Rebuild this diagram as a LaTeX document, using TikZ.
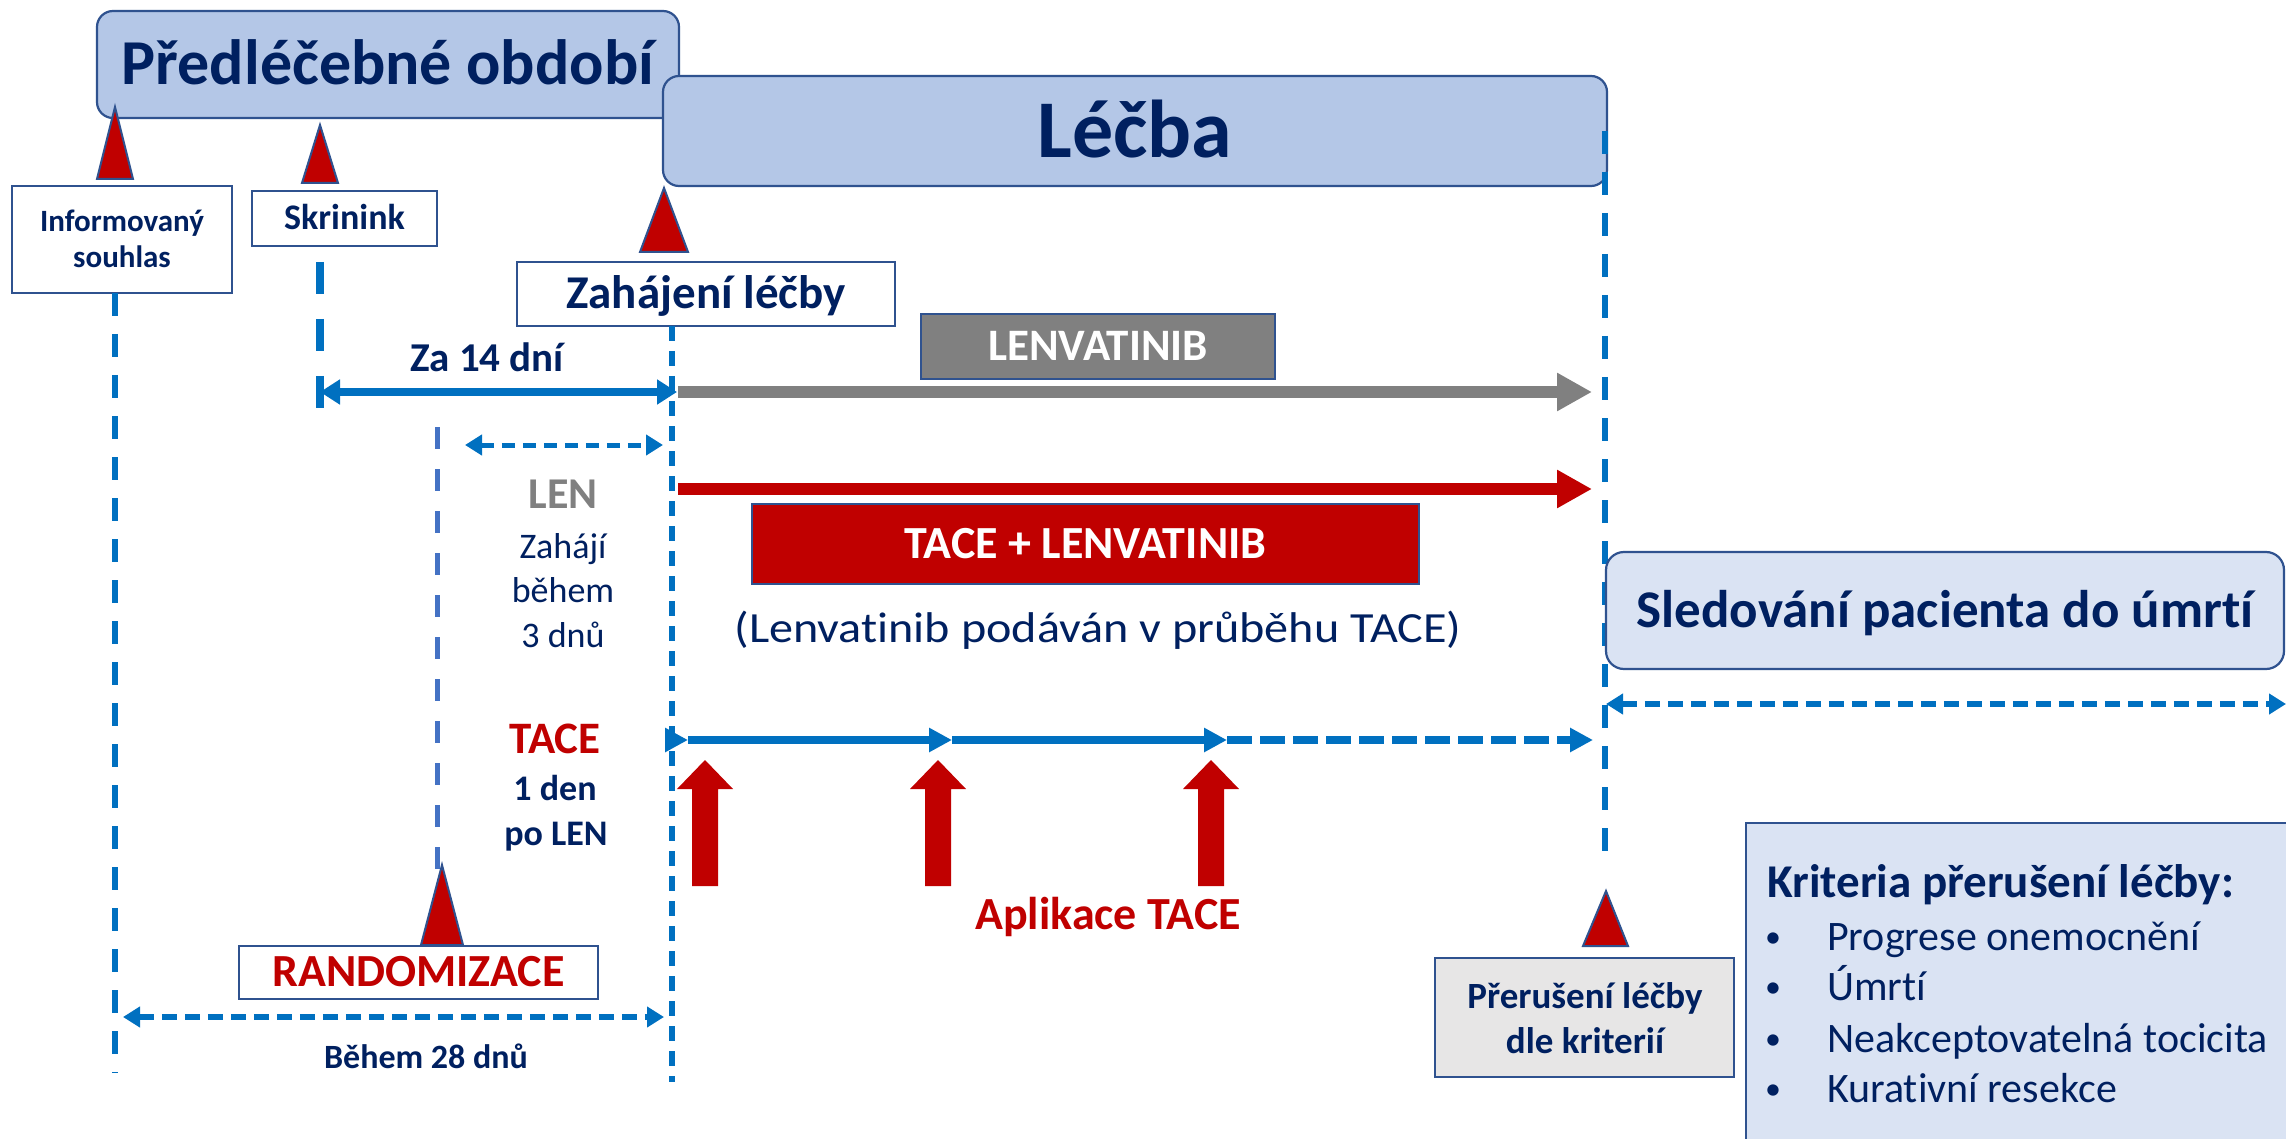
\documentclass[tikz,border=0pt]{standalone}
\usepackage{fontspec}
\setmainfont[Ligatures=NoCommon]{Carlito}
\usetikzlibrary{arrows.meta}
\definecolor{navy}{HTML}{002060}
\definecolor{lblue}{HTML}{0070C0}
\definecolor{rblue}{HTML}{4472C4}
\definecolor{bord}{HTML}{2F528F}
\definecolor{hdrfill}{HTML}{B4C7E7}
\definecolor{pale}{HTML}{DAE3F3}
\definecolor{lgray}{HTML}{E7E6E6}
\definecolor{dred}{HTML}{C00000}
\definecolor{mgray}{HTML}{808080}
\newcommand\fsz[1]{\fontsize{#1pt}{#1pt}\selectfont}
\begin{document}
\begin{tikzpicture}[x=1pt,y=-1pt,
  bx/.style={draw=bord, line width=2.2pt, inner sep=0pt, text depth=0pt},
  hdr/.style={bx, fill=hdrfill, rounded corners=16pt, text=navy},
  wbox/.style={bx, fill=white, text=navy},
  txt/.style={inner sep=0pt, text=navy},
  tri/.style={fill=dred, draw=bord, line width=2pt, line join=miter},
  vdash/.style={draw=lblue, line width=6pt},
  bigtip/.style={-{Triangle[length=35pt,width=36pt]}},
  midtip/.style={-{Triangle[length=23pt,width=23pt]}},
  dbltip/.style={{Triangle[length=17pt,width=20pt]}-{Triangle[length=17pt,width=20pt]}},
  blk/.style={fill=dred}
]
\fill[white] (0,0) rectangle (2286,1139);
\useasboundingbox (0,0) rectangle (2286,1139);

% header boxes
\node[hdr, font=\bfseries\fsz{64}, minimum width=582pt, minimum height=107pt, text height=41pt] (pre) at (388,64.5) {Předléčebné období};
\node[hdr, font=\bfseries\fsz{82}, minimum width=944pt, minimum height=110pt, text height=53pt] (lecba) at (1135,131) {Léčba};

% milestone boxes
\node[wbox, minimum width=220pt, minimum height=107pt] (inf) at (122,239.5) {};
\node[txt, font=\bfseries\fsz{31}, anchor=base] (infA) at (122,232) {Informovaný};
\node[txt, font=\bfseries\fsz{31}, anchor=base] (infB) at (122,268) {souhlas};
\node[wbox, font=\bfseries\fsz{36}, minimum width=185pt, minimum height=55pt, text height=23pt] (skr) at (344.5,218.5) {Skrinink};
\node[wbox, font=\bfseries\fsz{47}, minimum width=378pt, minimum height=64pt, text height=30pt] (zah) at (706,294) {Zahájení léčby};

% vertical dashed lines
\coordinate (l1a) at (115,293);  \coordinate (l1b) at (115,1073);
\coordinate (l2a) at (320,262);  \coordinate (l2b) at (320,408);
\coordinate (l3a) at (672,326);  \coordinate (l3b) at (672,1082);
\coordinate (l4a) at (437,427);  \coordinate (l4b) at (437,870);
\coordinate (l5a) at (1605,131); \coordinate (l5b) at (1605,867);
\draw[vdash, dash pattern=on 23pt off 18pt] (l1a) -- (l1b);
\draw[vdash, line width=8pt, dash pattern=on 32pt off 25pt] (l2a) -- (l2b);
\draw[vdash, dash pattern=on 15pt off 10pt] (l3a) -- (l3b);
\draw[draw=rblue, line width=5pt, dash pattern=on 22pt off 20pt] (l4a) -- (l4b);
\draw[vdash, dash pattern=on 23pt off 18pt] (l5a) -- (l5b);

% triangles
\draw[tri] (115,107) -- (133,179) -- (97,179) -- cycle;
\draw[tri] (320,125) -- (338,183) -- (302,183) -- cycle;
\draw[tri] (664,188) -- (688,252) -- (640,252) -- cycle;
\draw[tri] (442,865) -- (463,945) -- (421,945) -- cycle;
\draw[tri] (1606,891) -- (1628,946) -- (1583,946) -- cycle;

% Za 14 dni
\coordinate (zaA) at (320,392); \coordinate (zaB) at (677,392);
\draw[lblue, line width=8pt, {Triangle[length=20pt,width=24pt]}-{Triangle[length=20pt,width=24pt]}] (zaA) -- (zaB);
\node[txt, font=\bfseries\fsz{41}, anchor=base] (za) at (487,372) {Za 14 dní};

% LEN 3 days
\coordinate (lnA) at (465,445); \coordinate (lnB) at (663,445);
\draw[lblue, line width=5pt, dash pattern=on 13pt off 8pt, dbltip] (lnA) -- (lnB);
\node[txt, text=mgray, font=\bfseries\fsz{44}, anchor=base] (len) at (563,508) {LEN};
\node[txt, font=\fsz{36}, anchor=base] (lenA) at (563,558) {Zahájí};
\node[txt, font=\fsz{36}, anchor=base] (lenB) at (563,602) {během};
\node[txt, font=\fsz{36}, anchor=base] (lenC) at (563,647) {3 dnů};

% LENVATINIB arm
\node[bx, fill=mgray, text=white, font=\bfseries\fsz{45}, minimum width=354pt, minimum height=65pt, text height=28pt] (lenv) at (1098,346.5) {LENVATINIB};
\coordinate (gA) at (678,392); \coordinate (gB) at (1592,392);
\draw[mgray, line width=12pt, bigtip] (gA) -- (gB);

% TACE + LENVATINIB arm
\coordinate (rA) at (678,489); \coordinate (rB) at (1592,489);
\draw[dred, line width=12pt, bigtip] (rA) -- (rB);
\node[bx, fill=dred, text=white, font=\bfseries\fsz{46}, minimum width=667pt, minimum height=80pt, text height=28pt] (tl) at (1085.5,544) {TACE + LENVATINIB};
\node[txt, font=\fsz{43}, anchor=base] (sub) at (1098,642) {\scalebox{1.12}[1]{(Lenvatinib podáván v průběhu TACE)}};

% follow-up
\node[hdr, fill=pale, font=\bfseries\fsz{53}, rounded corners=18pt, minimum width=678pt, minimum height=117pt, text height=34pt] (sled) at (1945,610.5) {Sledování pacienta do úmrtí};
\coordinate (sA) at (1606,704); \coordinate (sB) at (2286,704);
\draw[lblue, line width=6pt, dash pattern=on 15pt off 8pt, dbltip] (sA) -- (sB);

% TACE timeline
\node[txt, text=dred, font=\bfseries\fsz{45}, anchor=base] (tace) at (555,753) {TACE};
\node[txt, font=\bfseries\fsz{36}, anchor=base] (taceA) at (555,800) {1 den};
\node[txt, font=\bfseries\fsz{36}, anchor=base] (taceB) at (556,845) {po LEN};
\coordinate (t0) at (665,740);
\coordinate (t1) at (688,740);
\coordinate (t2) at (952,740);
\coordinate (t3) at (1227,740);
\coordinate (t4) at (1593,740);
\draw[lblue, line width=8pt, midtip] (t0) -- (t1);
\draw[lblue, line width=8pt, midtip] (t1) -- (t2);
\draw[lblue, line width=8pt, midtip] (t2) -- (t3);
\draw[lblue, line width=8pt, dash pattern=on 25pt off 8pt, midtip] (t3) -- (t4);

% TACE applications (block arrows)
\fill[blk] (692,886) -- (692,789) -- (677,789) -- (705,760) -- (733,789) -- (718,789) -- (718,886) -- cycle;
\fill[blk] (925,886) -- (925,789) -- (910,789) -- (938,760) -- (966,789) -- (951,789) -- (951,886) -- cycle;
\fill[blk] (1198,886) -- (1198,789) -- (1183,789) -- (1211,760) -- (1239,789) -- (1224,789) -- (1224,886) -- cycle;
\node[txt, text=dred, font=\bfseries\fsz{46}, anchor=base] (apl) at (1108,929) {Aplikace TACE};

% randomization
\node[wbox, text=dred, font=\bfseries\fsz{46}, minimum width=359pt, minimum height=53pt, text height=28pt] (rand) at (418.5,972.5) {RANDOMIZACE};
\coordinate (bA) at (123,1017); \coordinate (bB) at (664,1017);
\draw[lblue, line width=6pt, dash pattern=on 15pt off 8pt, dbltip] (bA) -- (bB);
\node[txt, font=\bfseries\fsz{34}, anchor=base] (b28) at (426,1068) {Během 28 dnů};

% discontinuation
\node[bx, fill=lgray, minimum width=299pt, minimum height=119pt] (prer) at (1584.5,1017.5) {};
\node[txt, font=\bfseries\fsz{37}, anchor=base] (prerA) at (1585,1008) {Přerušení léčby};
\node[txt, font=\bfseries\fsz{37}, anchor=base] (prerB) at (1585,1053) {dle kriterií};

% criteria box
\node[bx, fill=pale, anchor=north west, minimum width=560pt, minimum height=330pt] (krit) at (1745,822) {};
\node[txt, font=\bfseries\fsz{47}, anchor=base west] (kt) at (1767,897) {Kriteria přerušení léčby:};
\node[txt, font=\fsz{32}, anchor=base] (k1b) at (1773,947) {•};
\node[txt, font=\fsz{42}, anchor=base west] (k1) at (1827,950) {Progrese onemocnění};
\node[txt, font=\fsz{32}, anchor=base] (k2b) at (1773,997) {•};
\node[txt, font=\fsz{42}, anchor=base west] (k2) at (1827,1000) {Úmrtí};
\node[txt, font=\fsz{32}, anchor=base] (k3b) at (1773,1049) {•};
\node[txt, font=\fsz{42}, anchor=base west] (k3) at (1827,1052) {Neakceptovatelná tocicita};
\node[txt, font=\fsz{32}, anchor=base] (k4b) at (1773,1099) {•};
\node[txt, font=\fsz{42}, anchor=base west] (k4) at (1827,1102) {Kurativní resekce};
\end{tikzpicture}
\end{document}
